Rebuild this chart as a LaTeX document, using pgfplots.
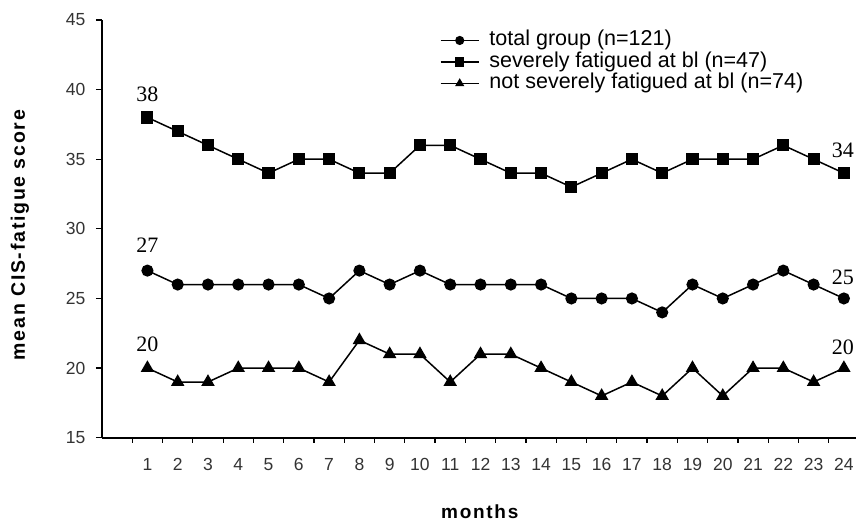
\documentclass[border=0pt]{standalone}
\usepackage{fontspec}
\setmainfont{Liberation Sans}
\newfontfamily\timesfont{Liberation Serif}
\newfontfamily\labfont[LetterSpace=9]{Liberation Sans}
\usepackage{pgfplots}
\pgfplotsset{compat=1.18}
\begin{document}
\begin{tikzpicture}
\begin{axis}[
  scale only axis,
  width=754pt, height=417.7pt,
  xmin=-0.5, xmax=24.4,
  ymin=15, ymax=45,
  axis lines=left,
  axis line style={-, line width=1.6pt},
  ytick={15,20,...,45},
  xtick={1,...,24},
  minor xtick={0.5,1.5,...,23.5},
  tick align=outside,
  major tick length=6pt,
  minor tick length=5pt,
  x tick style={draw=none},
  minor x tick style={draw=black, line width=1.2pt},
  y tick style={line width=1.2pt, black},
  /pgf/number format/assume math mode=true,
  ticklabel style={font=\fontsize{17.5}{19}\selectfont, text=black!80},
  xticklabel style={yshift=-11pt},
  yticklabel style={xshift=-7pt},
  xlabel={months},
  ylabel={mean CIS-fatigue score},
  xlabel style={at={(axis description cs:0.501,-0.178)}, anchor=center, font=\labfont\bfseries\fontsize{19}{21}\selectfont},
  ylabel style={at={(axis description cs:-0.109,0.485)}, anchor=center, font=\labfont\bfseries\fontsize{19.5}{21}\selectfont},
  legend style={at={(axis description cs:0.444,0.982)}, anchor=north west, draw=none, fill=none,
    font=\fontsize{21.5}{23}\selectfont, row sep=0pt,
    nodes={inner ysep=0.5pt, inner xsep=10pt, text height=15.5pt, text depth=5pt}},
  legend cell align=left,
  legend image code/.code={\draw[#1, mark size=3.8pt, mark repeat=2, mark phase=2] plot coordinates {(0pt,0pt) (19pt,0pt) (38pt,0pt)};},
  every axis plot/.append style={black, line width=1.5pt, mark options={solid, fill=black}},
  clip=false,
]
\addplot[mark=*, mark size=5.3pt] coordinates {
(1,27)(2,26)(3,26)(4,26)(5,26)(6,26)(7,25)(8,27)(9,26)(10,27)(11,26)(12,26)
(13,26)(14,26)(15,25)(16,25)(17,25)(18,24)(19,26)(20,25)(21,26)(22,27)(23,26)(24,25)};
\addlegendentry{total group (n=121)}
\addplot[mark=square*, mark size=5.3pt] coordinates {
(1,38)(2,37)(3,36)(4,35)(5,34)(6,35)(7,35)(8,34)(9,34)(10,36)(11,36)(12,35)
(13,34)(14,34)(15,33)(16,34)(17,35)(18,34)(19,35)(20,35)(21,35)(22,36)(23,35)(24,34)};
\addlegendentry{severely fatigued at bl (n=47)}
\addplot[mark=triangle*, mark size=6.3pt] coordinates {
(1,20)(2,19)(3,19)(4,20)(5,20)(6,20)(7,19)(8,22)(9,21)(10,21)(11,19)(12,21)
(13,21)(14,20)(15,19)(16,18)(17,19)(18,18)(19,20)(20,18)(21,20)(22,20)(23,19)(24,20)};
\addlegendentry{not severely fatigued at bl (n=74)}
\begin{scope}[every node/.style={font=\timesfont\fontsize{22}{24}\selectfont, inner sep=0pt, anchor=center}]
\node at (axis cs:1,38) [yshift=23pt] {38};
\node at (axis cs:1,27) [yshift=25pt] {27};
\node at (axis cs:1,20) [yshift=24pt] {20};
\node at (axis cs:24,34) [yshift=23pt, xshift=-1pt] {34};
\node at (axis cs:24,25) [yshift=21pt, xshift=-1pt] {25};
\node at (axis cs:24,20) [yshift=21pt, xshift=-1pt] {20};
\end{scope}
\coordinate (bl) at (rel axis cs:0,0);
\end{axis}
\pgfresetboundingbox
\path[use as bounding box] ([shift={(-102pt,-86.3pt)}]bl) rectangle ([shift={(754pt,437.7pt)}]bl);
\end{tikzpicture}
\end{document}
